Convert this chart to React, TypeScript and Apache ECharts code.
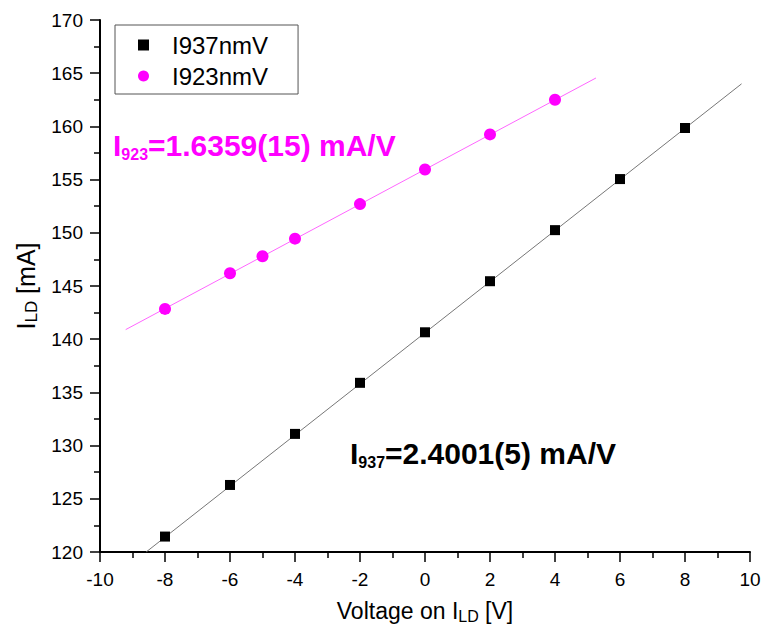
import React, { useEffect, useRef } from 'react';
import * as echarts from 'echarts';

const voltages937 = [-8, -6, -4, -2, 0, 2, 4, 6, 8];
const current937 = [121.45, 126.3, 131.1, 135.9, 140.65, 145.45, 150.25, 155.05, 159.85];
const voltages923 = [-8, -6, -5, -4, -2, 0, 2, 4];
const current923 = [142.85, 146.2, 147.8, 149.45, 152.7, 155.95, 159.25, 162.5];
const fit937X = [-8.58, 9.74];
const fit937Y = [120.0, 164.0];
const fit923X = [-9.21, 5.26];
const fit923Y = [140.9, 164.55];
const seriesNames = ['I937nmV', 'I923nmV'];
const label937 = ['I', '937', '=2.4001(5) mA/V'];
const label923 = ['I', '923', '=1.6359(15) mA/V'];

const NARROW = "'Liberation Sans Narrow', 'Liberation Sans', Arial, sans-serif";
const REG = "'Liberation Sans', Arial, sans-serif";

export default function App() {
  const ref = useRef<HTMLDivElement>(null);
  useEffect(() => {
    if (!ref.current) return;
    const chart = echarts.init(ref.current, null, { renderer: 'svg' });
    const pair = (xs: number[], ys: number[]) => xs.map((x, i) => [x, ys[i]]);
    const subRichX = {
      s: { fontSize: 16, fontFamily: NARROW, color: '#000', verticalAlign: 'bottom', lineHeight: 12 },
    };
    const subRichY = {
      s: { fontSize: 17, fontFamily: NARROW, color: '#000', verticalAlign: 'bottom', lineHeight: 12 },
    };
    chart.setOption({
      animation: false,
      backgroundColor: '#fff',
      textStyle: { fontFamily: REG },
      grid: { left: 100, right: 16, top: 20, bottom: 85, containLabel: false },
      legend: {
        orient: 'vertical',
        left: 115,
        top: 25,
        padding: [8, 30, 6, 23],
        itemGap: 7,
        itemWidth: 11,
        itemHeight: 11,
        borderColor: '#555',
        borderWidth: 1,
        borderRadius: 0,
        textStyle: { fontSize: 24, fontFamily: REG, color: '#000', padding: [0, 0, 0, 18] },
        data: [
          { name: seriesNames[0], icon: 'rect' },
          { name: seriesNames[1], icon: 'circle' },
        ],
      },
      xAxis: {
        type: 'value',
        min: -10,
        max: 10,
        interval: 2,
        name: 'Voltage on I{s|LD} [V]',
        nameLocation: 'middle',
        nameGap: 46,
        nameTextStyle: { fontSize: 23, fontFamily: NARROW, color: '#000', lineHeight: 26, rich: subRichX },
        axisLine: { show: true, onZero: false, lineStyle: { color: '#000', width: 2 } },
        axisTick: { show: true, inside: false, length: 10, lineStyle: { color: '#000', width: 1.5 } },
        minorTick: { show: true, splitNumber: 2, length: 6, lineStyle: { color: '#000', width: 1.5 } },
        axisLabel: { fontSize: 19, fontFamily: REG, color: '#000', margin: 18 },
        splitLine: { show: false },
      },
      yAxis: {
        type: 'value',
        min: 120,
        max: 170,
        interval: 5,
        name: 'I{s|LD} [mA]',
        nameLocation: 'middle',
        nameGap: 58,
        nameRotate: 90,
        nameTextStyle: { fontSize: 25, fontFamily: NARROW, color: '#000', lineHeight: 28, rich: subRichY },
        axisLine: { show: true, onZero: false, lineStyle: { color: '#000', width: 2 } },
        axisTick: { show: true, inside: false, length: 10, lineStyle: { color: '#000', width: 1.5 } },
        minorTick: { show: true, splitNumber: 2, length: 6, lineStyle: { color: '#000', width: 1.5 } },
        axisLabel: { fontSize: 19, fontFamily: REG, color: '#000', margin: 17 },
        splitLine: { show: false },
      },
      series: [
        {
          name: 'fit937',
          type: 'line',
          data: pair(fit937X, fit937Y),
          symbol: 'none',
          silent: true,
          lineStyle: { color: '#777', width: 1 },
          z: 1,
        },
        {
          name: 'fit923',
          type: 'line',
          data: pair(fit923X, fit923Y),
          symbol: 'none',
          silent: true,
          lineStyle: { color: '#ff66ff', width: 1 },
          z: 1,
        },
        {
          name: seriesNames[0],
          type: 'scatter',
          data: pair(voltages937, current937),
          symbol: 'rect',
          symbolSize: 10,
          itemStyle: { color: '#000', opacity: 1 },
          z: 3,
        },
        {
          name: seriesNames[1],
          type: 'scatter',
          data: pair(voltages923, current923),
          symbol: 'circle',
          symbolSize: 12,
          itemStyle: { color: '#ff00ff', opacity: 1 },
          z: 3,
        },
      ],
      graphic: [
        {
          type: 'text',
          left: 113,
          top: 130,
          style: {
            text: `{m|${label923[0]}}{s|${label923[1]}}{m|${label923[2]}}`,
            rich: {
              m: { fontSize: 30, fontWeight: 'bold', fontFamily: REG, fill: '#ff00ff', lineHeight: 34 },
              s: { fontSize: 16, fontWeight: 'bold', fontFamily: REG, fill: '#ff00ff', verticalAlign: 'bottom', lineHeight: 12 },
            },
          },
        },
        {
          type: 'text',
          left: 350,
          top: 438,
          style: {
            text: `{m|${label937[0]}}{s|${label937[1]}}{m|${label937[2]}}`,
            rich: {
              m: { fontSize: 30, fontWeight: 'bold', fontFamily: REG, fill: '#000', lineHeight: 34 },
              s: { fontSize: 16, fontWeight: 'bold', fontFamily: REG, fill: '#000', verticalAlign: 'bottom', lineHeight: 12 },
            },
          },
        },
      ],
    });
    return () => chart.dispose();
  }, []);
  return <div ref={ref} style={{ position: 'fixed', left: 0, top: 0, width: 766, height: 637 }} />;
}
